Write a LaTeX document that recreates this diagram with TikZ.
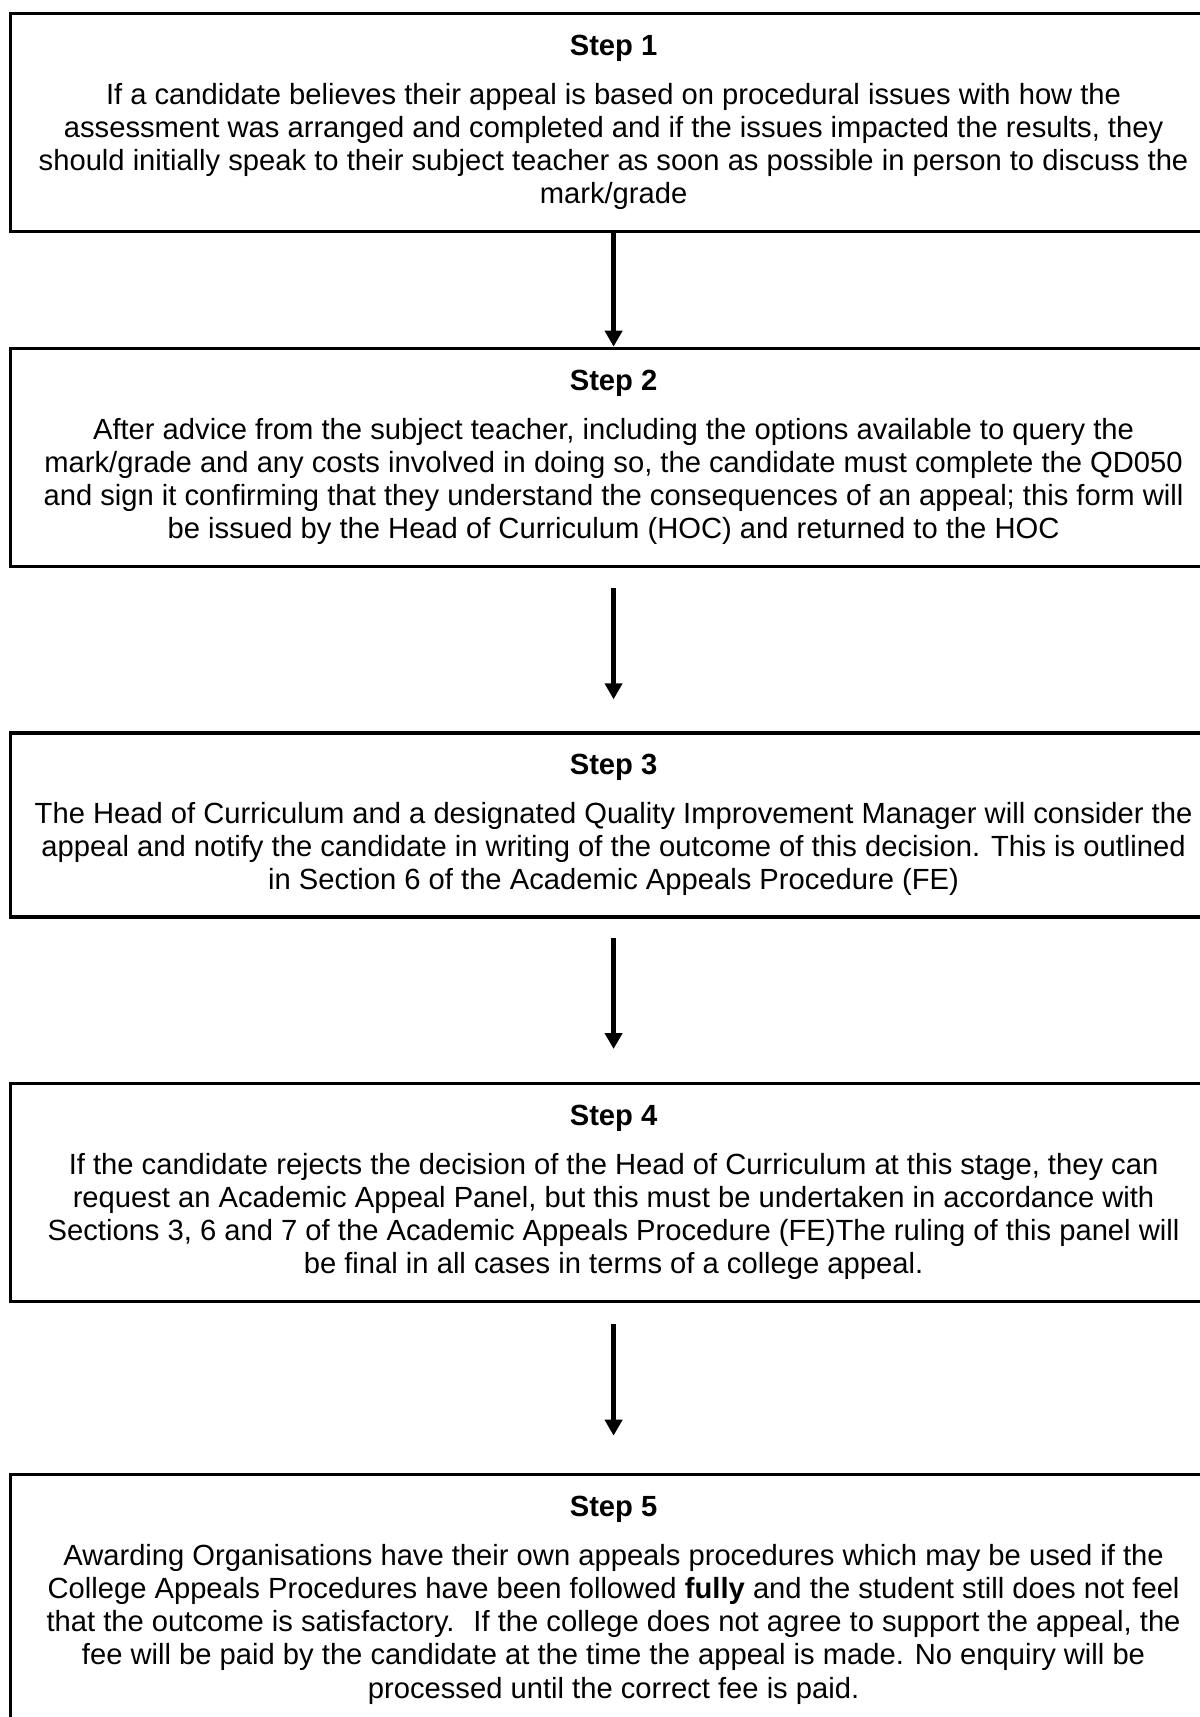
\documentclass[tikz,border=0pt]{standalone}
\usepackage{fontspec}
\setmainfont{Liberation Sans}
\usetikzlibrary{positioning,arrows.meta}
\tikzset{
  stepbox/.style={draw, line width=1.8pt, minimum width=24.12cm, align=center, inner sep=0pt,
    font=\fontsize{16.6}{18.8}\selectfont},
  flow/.style={-{Triangle[width=0.34cm,length=0.32cm]}, line width=2.8pt}
}
\begin{document}
\begin{tikzpicture}
\useasboundingbox (0,0) rectangle (24,-34.34);
\clip (0,0) rectangle (24,-34.34);

\node[stepbox, minimum height=4.36cm, anchor=north west] (s1) at (0.18,-0.24)
  {\textbf{Step 1}\\[0.32cm]
   If a candidate believes their appeal is based on procedural issues with how the\\
   assessment was arranged and completed and if the issues impacted the results, they\\
   should initially speak to their subject teacher as soon as possible in person to discuss the\\
   mark/grade};
\node[stepbox, minimum height=4.36cm, below=2.27cm of s1] (s2)
  {\textbf{Step 2}\\[0.32cm]
   After advice from the subject teacher, including the options available to query the\\
   mark/grade and any costs involved in doing so, the candidate must complete the QD050\\
   and sign it confirming that they understand the consequences of an appeal; this form will\\
   be issued by the Head of Curriculum (HOC) and returned to the HOC};
\node[stepbox, minimum height=3.68cm, below=3.27cm of s2] (s3)
  {\textbf{Step 3}\\[0.32cm]
   The Head of Curriculum and a designated Quality Improvement Manager will consider the\\
   appeal and notify the candidate in writing of the outcome of this decision. This is outlined\\
   in Section 6 of the Academic Appeals Procedure (FE)};
\node[stepbox, minimum height=4.36cm, below=3.27cm of s3] (s4)
  {\textbf{Step 4}\\[0.32cm]
   If the candidate rejects the decision of the Head of Curriculum at this stage, they can\\
   request an Academic Appeal Panel, but this must be undertaken in accordance with\\
   Sections 3, 6 and 7 of the Academic Appeals Procedure (FE)The ruling of this panel will\\
   be final in all cases in terms of a college appeal.};
\node[stepbox, minimum height=5.04cm, below=3.39cm of s4] (s5)
  {\textbf{Step 5}\\[0.32cm]
   Awarding Organisations have their own appeals procedures which may be used if the\\
   College Appeals Procedures have been followed \textbf{fully} and the student still does not feel\\
   that the outcome is satisfactory.~ If the college does not agree to support the appeal, the\\
   fee will be paid by the candidate at the time the appeal is made. No enquiry will be\\
   processed until the correct fee is paid.};

\draw[flow] (s1) -- (s2);
\draw[flow, shorten <=0.4cm, shorten >=0.64cm] (s2) -- (s3);
\draw[flow, shorten <=0.38cm, shorten >=0.66cm] (s3) -- (s4);
\draw[flow, shorten <=0.42cm, shorten >=0.74cm] (s4) -- (s5);
\end{tikzpicture}
\end{document}
